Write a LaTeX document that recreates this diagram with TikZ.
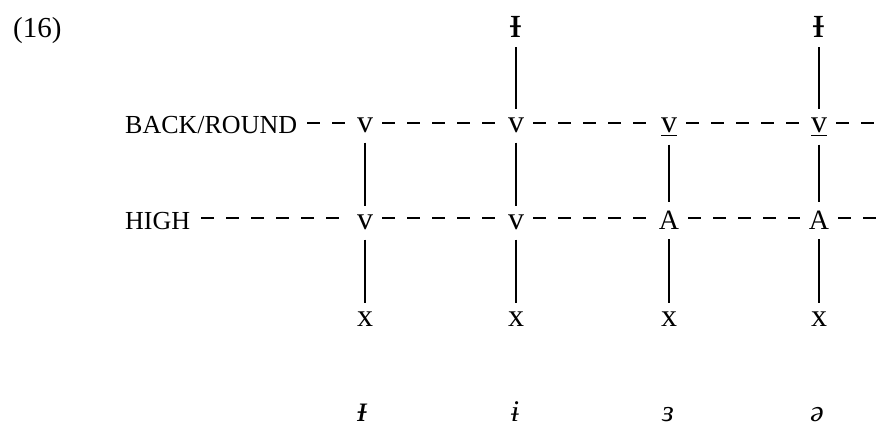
\documentclass[tikz,border=0pt]{standalone}
\usepackage{fontspec}
\setmainfont{Liberation Serif}
\begin{document}
\begin{tikzpicture}[x=1pt,y=-1pt,
  num/.style={font=\fontsize{29}{34}\selectfont, inner sep=0pt, anchor=base west},
  lab/.style={font=\fontsize{26}{30}\selectfont, inner sep=0pt, anchor=base west},
  seg/.style={font=\fontsize{32}{36}\selectfont, inner sep=9pt, anchor=base},
  segA/.style={font=\fontsize{28}{32}\selectfont, inner sep=9pt, anchor=base},
  topseg/.style={font=\fontsize{46}{50}\selectfont, inner sep=9pt, anchor=base},
  bot/.style={font=\fontsize{30}{34}\selectfont\itshape, inner sep=0pt, anchor=base},
  botI/.style={font=\fontsize{38}{42}\selectfont\itshape, inner sep=0pt, anchor=base},
  assoc/.style={line width=1.1pt},
  tier/.style={line width=1.1pt, dash pattern=on 13pt off 12pt}]
\useasboundingbox (0,0) rectangle (876,427);
\coordinate (rowB) at (0,123);
\coordinate (rowH) at (0,218);
\coordinate (endB) at (876,123);
\coordinate (endH) at (876,218);
\node[num] (ex) at (13,38) {(16)};
\node[lab] (back) at (125,134) {BACK/ROUND};
\node[lab] (high) at (125,230) {HIGH};
% top tier
\node[topseg] (t2) at (516,38) {ᵻ};
\node[topseg] (t4) at (819,38) {ᵻ};
% back/round tier
\node[seg] (b1) at (365,133) {v};
\node[seg] (b2) at (516,133) {v};
\node[seg] (b3) at (669,133) {\underline{v}};
\node[seg] (b4) at (819,133) {\underline{v}};
% high tier
\node[seg] (h1) at (365,230) {v};
\node[seg] (h2) at (516,230) {v};
\node[segA] (h3) at (669,230) {A};
\node[segA] (h4) at (819,230) {A};
% skeleton
\node[seg] (x1) at (365,327) {x};
\node[seg] (x2) at (516,327) {x};
\node[seg] (x3) at (669,327) {x};
\node[seg] (x4) at (819,327) {x};
% vowels
\node[botI] (w1) at (363,422) {ᵻ};
\node[bot] (w2) at (515,422) {ɨ};
\node[bot] (w3) at (668,422) {ɜ};
\node[bot] (w4) at (817,422) {ə};
% dashed tiers
\draw[tier, shorten <=10pt] (back.east |- rowB) -- (b1.west |- rowB);
\draw[tier] (b1.east |- rowB) -- (b2.west |- rowB);
\draw[tier] (b2.east |- rowB) -- (b3.west |- rowB);
\draw[tier] (b3.east |- rowB) -- (b4.west |- rowB);
\draw[tier] (b4.east |- rowB) -- (endB);
\draw[tier, shorten <=11pt] (high.east |- rowH) -- (h1.west |- rowH);
\draw[tier] (h1.east |- rowH) -- (h2.west |- rowH);
\draw[tier] (h2.east |- rowH) -- (h3.west |- rowH);
\draw[tier] (h3.east |- rowH) -- (h4.west |- rowH);
\draw[tier] (h4.east |- rowH) -- (endH);
% association lines
\draw[assoc] (t2) -- (b2);
\draw[assoc] (t4) -- (b4);
\draw[assoc] (b1) -- (h1);
\draw[assoc] (b2) -- (h2);
\draw[assoc] (b3) -- (h3);
\draw[assoc] (b4) -- (h4);
\draw[assoc] (h1) -- (x1);
\draw[assoc] (h2) -- (x2);
\draw[assoc] (h3) -- (x3);
\draw[assoc] (h4) -- (x4);
\end{tikzpicture}
\end{document}
